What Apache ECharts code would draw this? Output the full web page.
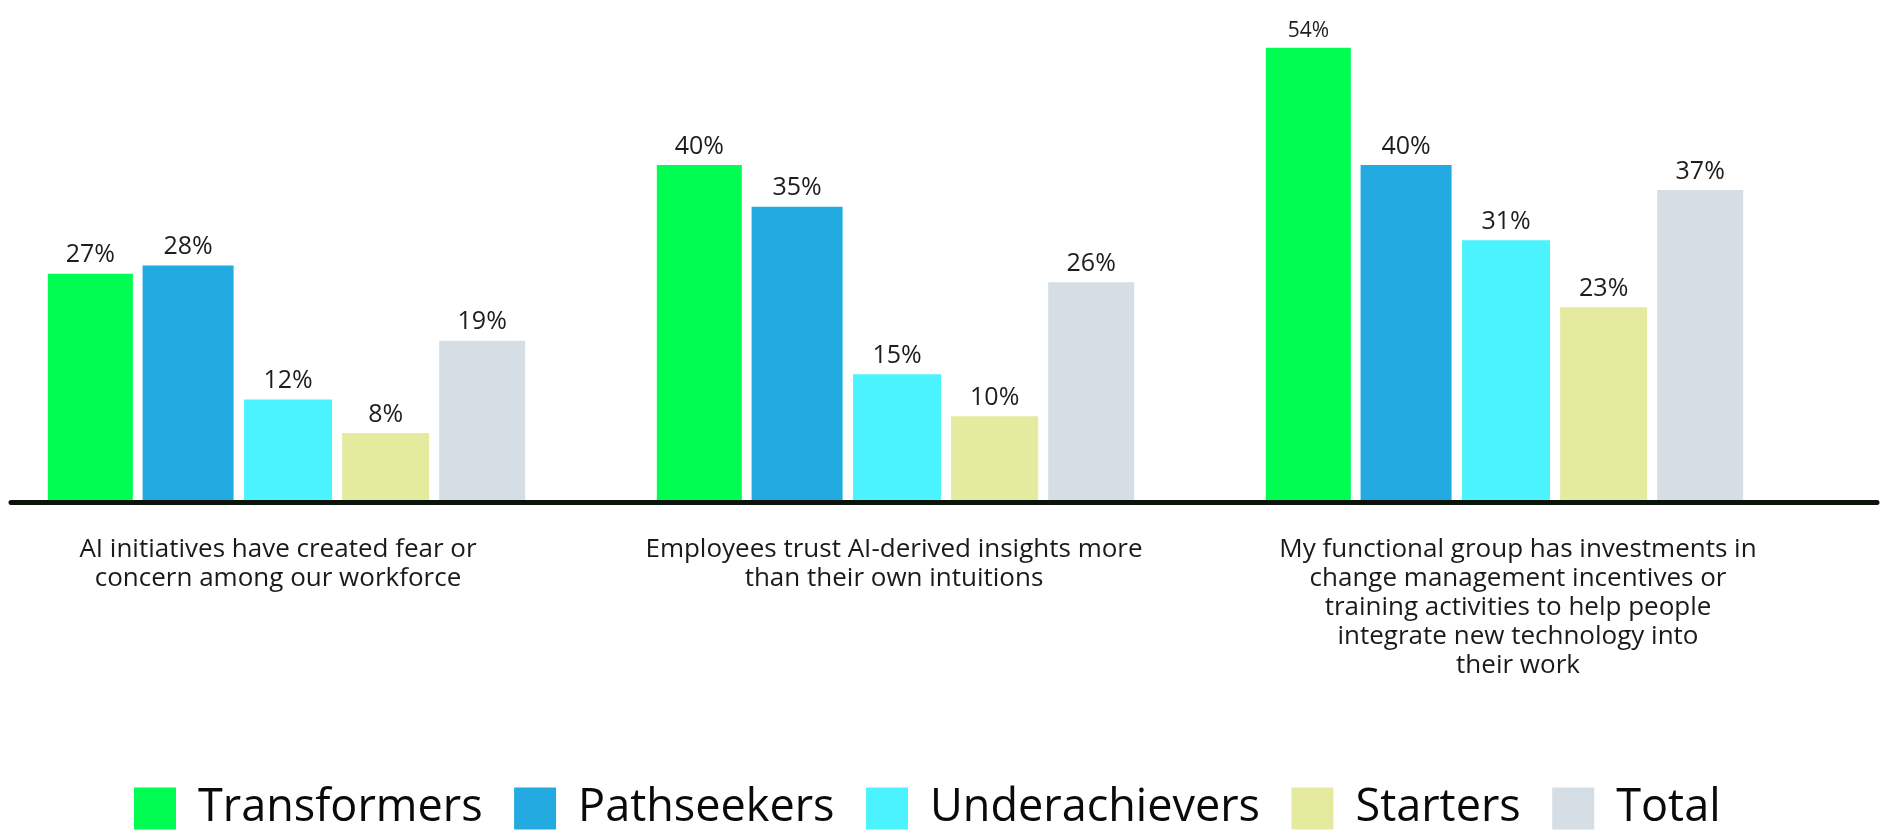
<!DOCTYPE html>
<html><head><meta charset="utf-8">
<script src="https://cdn.jsdelivr.net/npm/echarts@6/dist/echarts.min.js"></script>
<style>html,body{margin:0;padding:0;background:#fff}#c{width:1881px;height:830px}</style>
</head><body><div id="c"></div>
<script>
// ---- data ----
const categories = [
  'AI initiatives have created fear or\nconcern among our workforce',
  'Employees trust AI-derived insights more\nthan their own intuitions',
  'My functional group has investments in\nchange management incentives or\ntraining activities to help people\nintegrate new technology into\ntheir work'
];
const seriesNames = ['Transformers', 'Pathseekers', 'Underachievers', 'Starters', 'Total'];
const transformers = [27, 40, 54];
const pathseekers = [28, 35, 40];
const underachievers = [12, 15, 31];
const starters = [8, 10, 23];
const total = [19, 26, 37];
const seriesValues = [transformers, pathseekers, underachievers, starters, total];

// ---- styles ----
const colors = ['#00FE52', '#23AAE1', '#4BF3FE', '#E4EA9E', '#D5DDE5'];
const barWidths = [85, 91, 88, 87, 86];
const FONT = '"Open Sans", "Noto Sans", sans-serif';
const catLabelPad = [[0, 17, 0, 0], [0, 3, 0, 0], [0, 0, 0, 27]];

const chart = echarts.init(document.getElementById('c'), null, {renderer: 'canvas'});

const series = seriesValues.map((vals, i) => ({
  name: seriesNames[i],
  type: 'bar',
  xAxisIndex: 0,
  yAxisIndex: 0,
  barWidth: barWidths[i],
  barGap: '11.5%',
  itemStyle: {color: colors[i]},
  label: {
    show: true,
    position: 'top',
    distance: 6,
    formatter: '{c}%',
    fontFamily: FONT,
    fontSize: 25,
    color: '#1d1d1d'
  },
  emphasis: {disabled: true},
  data: vals.map(v => v)
}));
// smaller label on the tallest bar, as in the reference
series[0].data[2] = {value: transformers[2], label: {fontSize: 21}};

const option = {
  animation: false,
  backgroundColor: '#ffffff',
  grid: [
    {left: -18, width: 1827, top: 47.7, bottom: 330, containLabel: false, outerBoundsMode: 'none'},
    {left: 11, right: 4, top: 0, bottom: 327.3, containLabel: false, outerBoundsMode: 'none'}
  ],
  legend: {
    left: 134,
    top: 786,
    padding: 0,
    itemWidth: 42,
    itemHeight: 42,
    itemGap: 31.5,
    icon: 'rect',
    selectedMode: false,
    textStyle: {
      fontFamily: FONT,
      fontSize: 45,
      color: '#0a0a0a',
      padding: [14, 0, 0, 17]
    },
    data: seriesNames
  },
  xAxis: [
    {
      type: 'category',
      gridIndex: 0,
      data: categories.map((c, i) => ({value: c, textStyle: {padding: catLabelPad[i]}})),
      axisLine: {show: false},
      axisTick: {show: false},
      axisLabel: {
        interval: 0,
        margin: 35,
        fontFamily: FONT,
        fontSize: 26,
        lineHeight: 29,
        color: '#1a1a1a',
        align: 'center'
      }
    },
    {
      type: 'category',
      gridIndex: 1,
      data: [''],
      axisLine: {show: true, lineStyle: {color: '#0b140b', width: 5}},
      axisTick: {show: false},
      axisLabel: {show: false},
      z: 10
    }
  ],
  yAxis: [
    {type: 'value', gridIndex: 0, min: 0, max: 54, show: false, splitLine: {show: false}},
    {type: 'value', gridIndex: 1, show: false, splitLine: {show: false}}
  ],
  series: series
};
chart.setOption(option);
</script>
</body></html>
